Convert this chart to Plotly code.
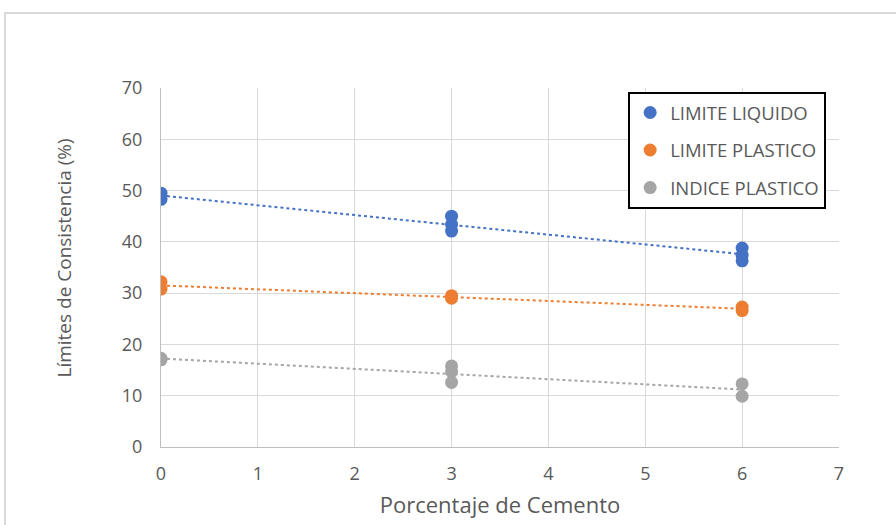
import numpy as np
import plotly.graph_objects as go

# Data
ll_x = [0, 0, 3, 3, 3, 6, 6, 6]
ll_y = [49.5, 48.3, 45.0, 43.4, 42.1, 38.8, 37.4, 36.3]
lp_x = [0, 0, 3, 3, 6, 6]
lp_y = [32.2, 30.8, 29.5, 29.0, 27.3, 26.6]
ip_x = [0, 0, 3, 3, 3, 6, 6]
ip_y = [17.3, 17.0, 15.8, 14.7, 12.6, 12.3, 9.9]

series = [
    ("LIMITE LIQUIDO", ll_x, ll_y, "#4472C4"),
    ("LIMITE PLASTICO", lp_x, lp_y, "#ED7D31"),
    ("INDICE PLASTICO", ip_x, ip_y, "#A5A5A5"),
]

FONT = "Open Sans"
TXT = "#595959"

fig = go.Figure()
for i, (name, xs, ys, col) in enumerate(series):
    m, b = np.polyfit(xs, ys, 1)
    tx = [0, 6]
    fig.add_trace(go.Scatter(x=tx, y=[b + m * t for t in tx], mode="lines",
                             line=dict(color=col, width=2, dash="dot"),
                             showlegend=False, hoverinfo="skip"))
for i, (name, xs, ys, col) in enumerate(series):
    fig.add_trace(go.Scatter(x=xs, y=ys, mode="markers", name=name,
                             legendgroup=str(i),
                             marker=dict(color=col, size=13)))

fig.update_layout(
    width=896, height=525,
    margin=dict(l=161, r=57, t=88, b=78),
    paper_bgcolor="white", plot_bgcolor="white",
    font=dict(family=FONT, color=TXT, size=15),
    legend=dict(x=0.689, y=0.989, xanchor="left", yanchor="top",
                bgcolor="white", bordercolor="black", borderwidth=2,
                font=dict(size=18.5, color=TXT), tracegroupgap=10.5,
                itemwidth=30),
    xaxis=dict(range=[0, 7], dtick=1, showgrid=True, gridcolor="#d9d9d9",
               showline=True, linecolor="#bfbfbf", zeroline=False,
               tickfont=dict(size=18), ticklabelstandoff=10,
               title=dict(text="Porcentaje de Cemento", font=dict(size=22), standoff=14)),
    yaxis=dict(range=[0, 70], dtick=10, showgrid=True, gridcolor="#d9d9d9",
               showline=True, linecolor="#bfbfbf", zeroline=False,
               tickfont=dict(size=18), ticklabelstandoff=14),
    annotations=[dict(text="Límites de Consistencia (%)", textangle=-90,
                      xref="paper", yref="paper", x=(63 - 161) / 678,
                      y=(447 - 257.5) / 359, xanchor="center", yanchor="middle",
                      showarrow=False, font=dict(size=19, color=TXT))],
    shapes=[dict(type="rect", xref="paper", yref="paper",
                 x0=(5 - 161) / 678, x1=1.2, y0=-0.3, y1=(447 - 13) / 359,
                 line=dict(color="#d9d9d9", width=2), layer="below")],
)

fig.write_html("out.html", config={"displayModeBar": False},
               post_script="document.body.style.margin='0';document.body.style.padding='0';")
